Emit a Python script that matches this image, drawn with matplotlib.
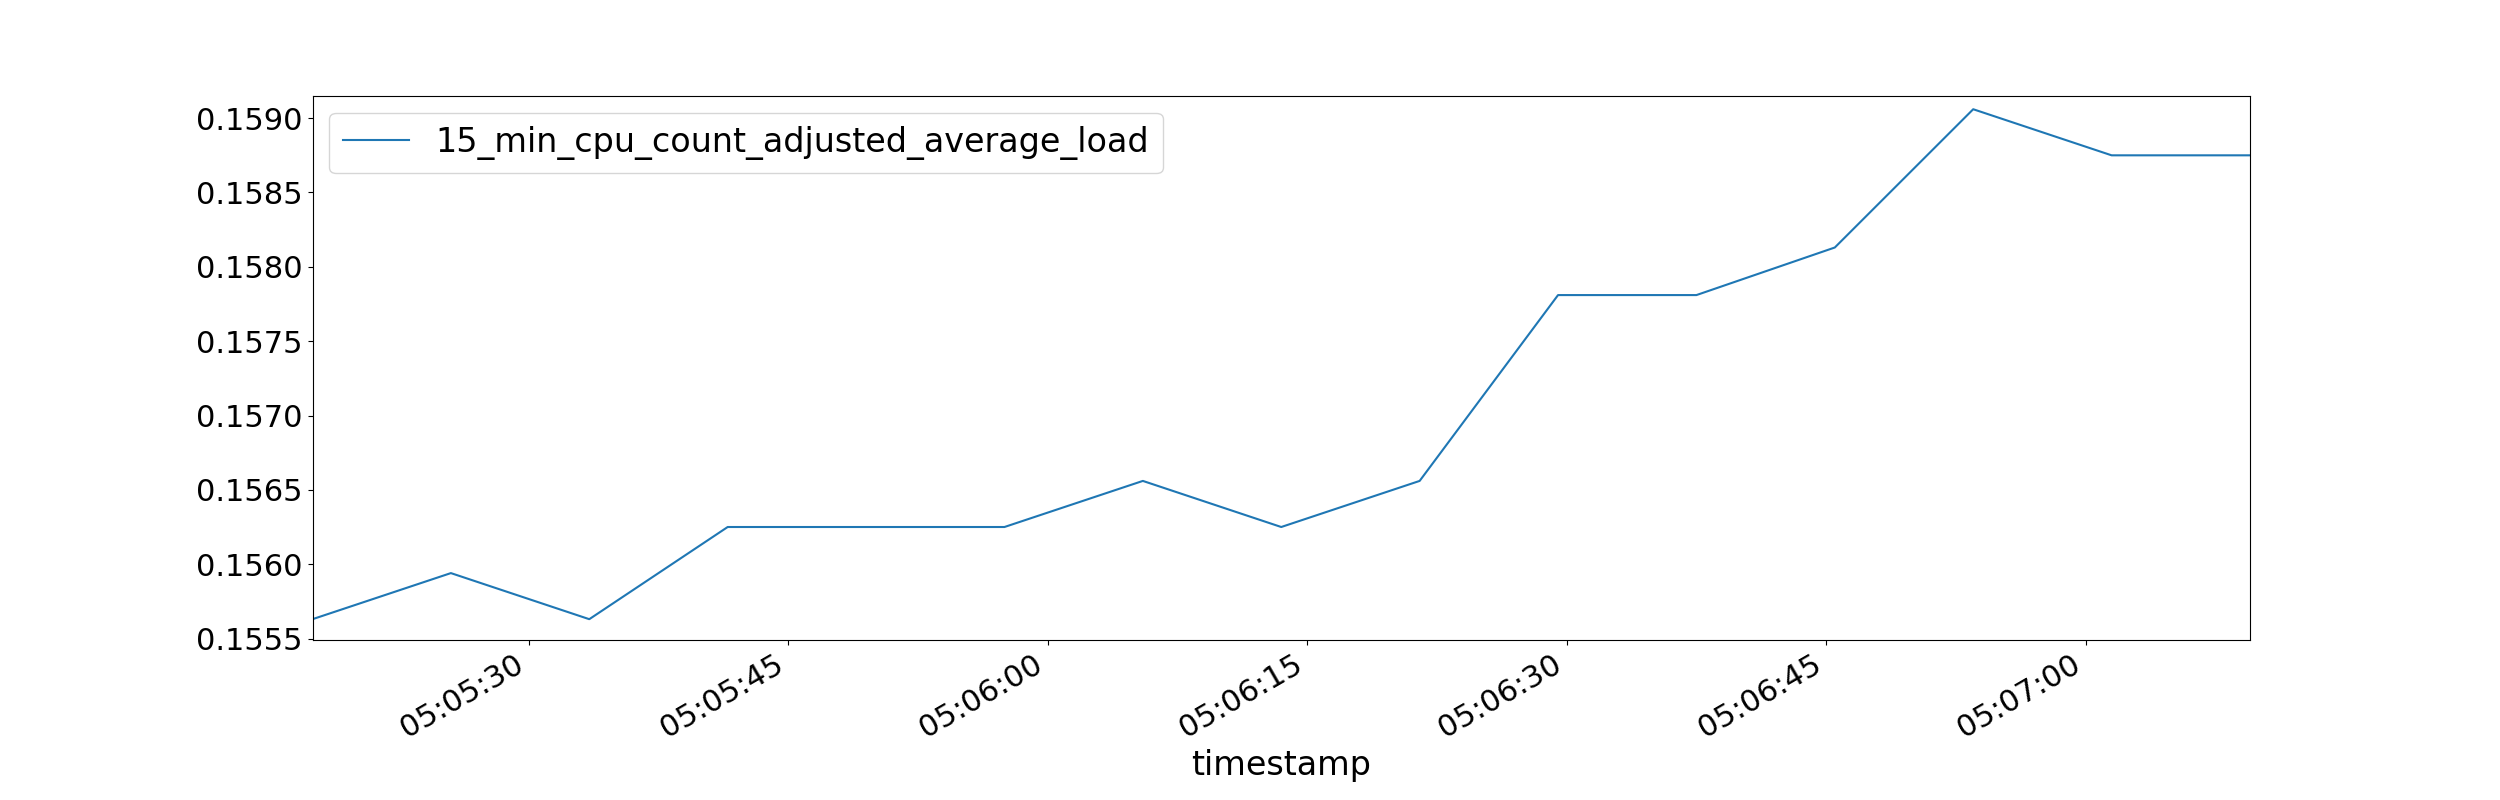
import numpy as np
import pandas as pd
import matplotlib
matplotlib.use('Agg')
import matplotlib.pyplot as plt
import matplotlib.dates as mdates

timestamps = pd.date_range('2024-01-01 05:05:17.5', periods=15, freq='8s')
load = [0.15563, 0.15594, 0.15563, 0.15625, 0.15625, 0.15625, 0.15656, 0.15625,
        0.15656, 0.15781, 0.15781, 0.15813, 0.15906, 0.15875, 0.15875]

df = pd.DataFrame({'timestamp': timestamps, '15_min_cpu_count_adjusted_average_load': load})

fig, ax = plt.subplots(figsize=(25, 8), dpi=100)
ax.plot(df['timestamp'], df['15_min_cpu_count_adjusted_average_load'],
        color='#1f77b4', label='15_min_cpu_count_adjusted_average_load')
ax.set_xlim(df['timestamp'].iloc[0], df['timestamp'].iloc[-1])
ax.set_ylim(0.155490, 0.159149)
ax.xaxis.set_major_locator(mdates.SecondLocator(bysecond=[0, 15, 30, 45]))
ax.xaxis.set_major_formatter(mdates.DateFormatter('%H:%M:%S'))
ax.tick_params(labelsize=22)
ax.set_xlabel('timestamp', fontsize=24)
ax.legend(fontsize=24, loc='upper left')
fig.autofmt_xdate()
plt.savefig('out.png')
